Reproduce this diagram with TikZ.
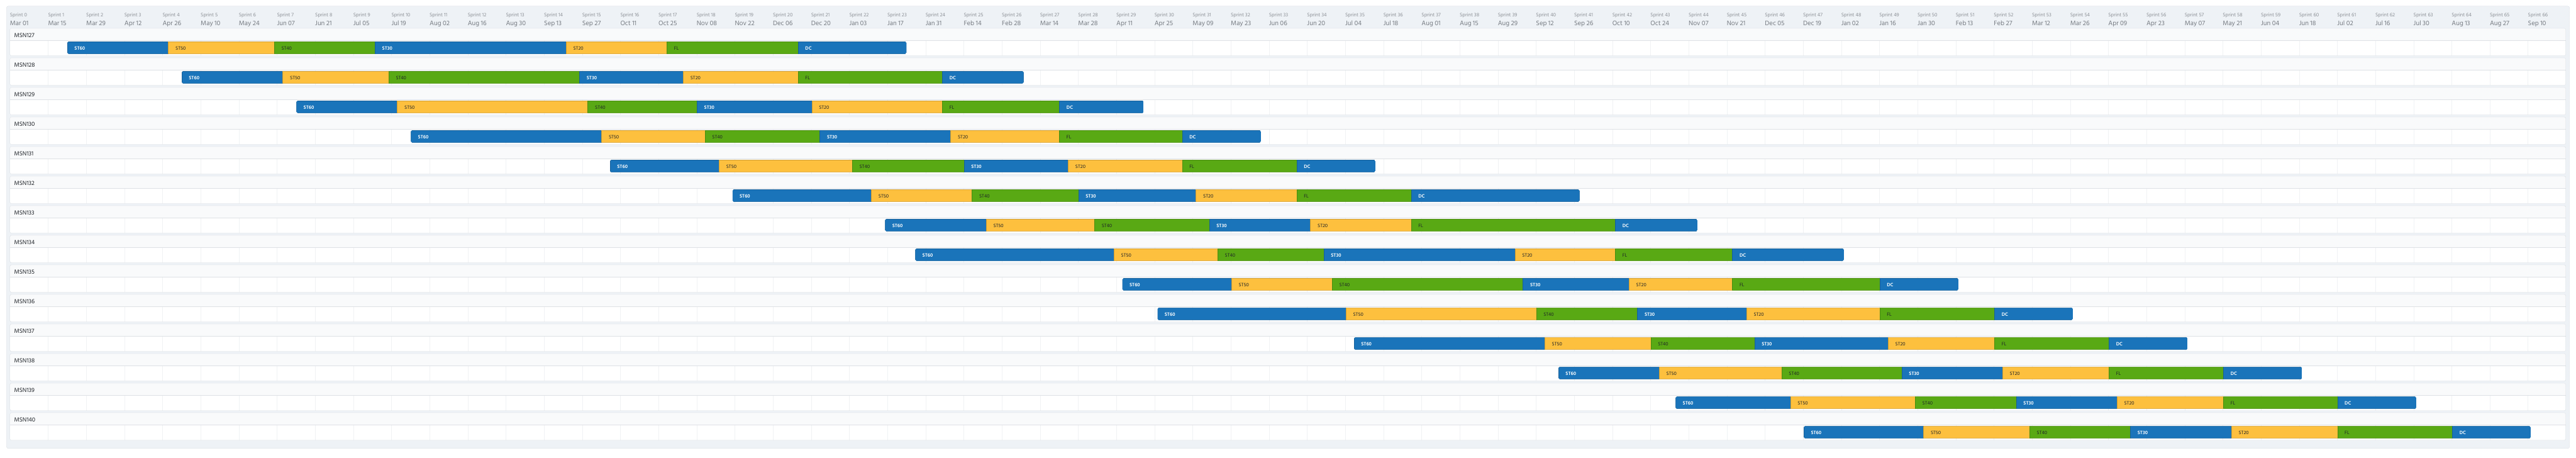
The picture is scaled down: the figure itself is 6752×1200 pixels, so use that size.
\documentclass[tikz,border=0pt]{standalone}
\usepackage{fontspec}
\setmainfont{Hind Siliguri}
\usetikzlibrary{positioning}
\definecolor{gtframe}{RGB}{238,242,246}
\definecolor{gtborder}{RGB}{212,217,223}
\definecolor{gtstrip}{RGB}{249,250,251}
\definecolor{gtline}{RGB}{222,225,229}
\definecolor{gtgrid}{RGB}{240,242,244}
\definecolor{gtgray}{RGB}{140,144,150}
\definecolor{gtdate}{RGB}{118,123,130}
\definecolor{gtink}{RGB}{31,35,40}
\definecolor{gtblue}{RGB}{26,116,186}
\definecolor{gtyellow}{RGB}{253,192,62}
\definecolor{gtgreen}{RGB}{89,169,20}

\begin{document}
\begin{tikzpicture}[x=1pt,y=-1pt,
  sprintlbl/.style={anchor=base west,inner sep=0pt,text=gtgray,font=\fontsize{13.5}{14}\selectfont},
  datelbl/.style={anchor=base west,inner sep=0pt,text=gtdate,font=\fontsize{17.5}{18}\selectfont},
  msnlbl/.style={anchor=base west,inner sep=0pt,text=gtink,font=\fontsize{16}{17}\selectfont},
  barlbl/.style={anchor=base west,inner sep=0pt,font=\fontsize{13}{14}\selectfont},
  lblwhite/.style={text=white,font=\fontsize{13}{14}\selectfont\bfseries},
  lbldark/.style={text=gtink}]
\useasboundingbox (0,0) rectangle (6752,1200);
% Outer panel
\draw[gtborder,fill=gtframe,rounded corners=5pt] (17,16) rectangle (6735,1175);
% Sprint header
\foreach \day [count=\k from 0] in {Mar 01,Mar 15,Mar 29,Apr 12,Apr 26,May 10,May 24,Jun 07,Jun 21,Jul 05,Jul 19,Aug 02,Aug 16,Aug 30,Sep 13,Sep 27,Oct 11,Oct 25,Nov 08,Nov 22,Dec 06,Dec 20,Jan 03,Jan 17,Jan 31,Feb 14,Feb 28,Mar 14,Mar 28,Apr 11,Apr 25,May 09,May 23,Jun 06,Jun 20,Jul 04,Jul 18,Aug 01,Aug 15,Aug 29,Sep 12,Sep 26,Oct 10,Oct 24,Nov 07,Nov 21,Dec 05,Dec 19,Jan 02,Jan 16,Jan 30,Feb 13,Feb 27,Mar 12,Mar 26,Apr 09,Apr 23,May 07,May 21,Jun 04,Jun 18,Jul 02,Jul 16,Jul 30,Aug 13,Aug 27,Sep 10} {
  \node[sprintlbl] (spr\k) at (26+100*\k,43) {Sprint \k};
  \node[datelbl] (day\k) at (26+100*\k,66) {\day};
}
% Rows: msn / ST60 ST50 ST40 ST30 ST20 FL DC starts / end
\foreach \msn/\pa/\pb/\pc/\pd/\pe/\pf/\pg/\ph [count=\i from 0] in {
  127/176.5/441.5/719/983/1484/1748/2092/2376,
  128/476.5/741.5/1019/1519/1791/2092/2470/2683,
  129/777/1041.5/1541/1827/2128/2470/2777/2998,
  130/1077/1577/1848/2149/2492/2777/3099/3305,
  131/1599/1885/2234/2527/2800/3099/3399/3605,
  132/1920/2284/2548/2827/3135/3399/3699/4140,
  133/2320/2585/2869/3170/3435/3699/4234/4449,
  134/2399/2920/3192/3470/3971/4234/4541/4833,
  135/2942/3228/3492/3992/4270/4541/4927/5133,
  136/3034/3528/4027/4292/4578/4927/5228/5433,
  137/3549/4049/4327/4599/4949/5228/5528/5734,
  138/4085/4349/4670/4985/5249/5528/5828/6034,
  139/4392/4693/5020/5285/5549/5828/6127/6333,
  140/4728/5042/5320/5584/5849/6127/6428/6633} {
  \pgfmathsetmacro{\rowtop}{74+77.5*\i}
  % card
  \begin{scope}
    \clip[rounded corners=3pt] (26,\rowtop) rectangle (6725,\rowtop+72);
    \fill[white] (26,\rowtop) rectangle (6725,\rowtop+72);
    \fill[gtstrip] (26,\rowtop) rectangle (6725,\rowtop+31);
    \foreach \k in {1,...,66} {\draw[gtgrid] (26+100*\k,\rowtop+31) -- (26+100*\k,\rowtop+72);}
  \end{scope}
  \draw[gtline] (26,\rowtop+31) -- (6725,\rowtop+31);
  \draw[gtborder,rounded corners=3pt] (26,\rowtop) rectangle (6725,\rowtop+72);
  \node[msnlbl] (msn\msn) at (37,\rowtop+24.3) {MSN\msn};
  % bar
  \begin{scope}
    \clip[rounded corners=3pt] (\pa,\rowtop+35) rectangle (\ph,\rowtop+67);
    \foreach \from/\to/\col/\txt/\lab [count=\j] in {\pa/\pb/gtblue/lblwhite/ST60, \pb/\pc/gtyellow/lbldark/ST50, \pc/\pd/gtgreen/lbldark/ST40, \pd/\pe/gtblue/lblwhite/ST30, \pe/\pf/gtyellow/lbldark/ST20, \pf/\pg/gtgreen/lbldark/FL, \pg/\ph/gtblue/lblwhite/DC} {
      \draw[fill=\col,draw=\col!82!black,line width=1.2pt] (\from,\rowtop+35) rectangle (\to,\rowtop+67);
      \node[barlbl,\txt] (seg\msn-\j) at (\from+18.5,\rowtop+57.5) {\lab};
    }
  \end{scope}
}
\end{tikzpicture}
\end{document}
